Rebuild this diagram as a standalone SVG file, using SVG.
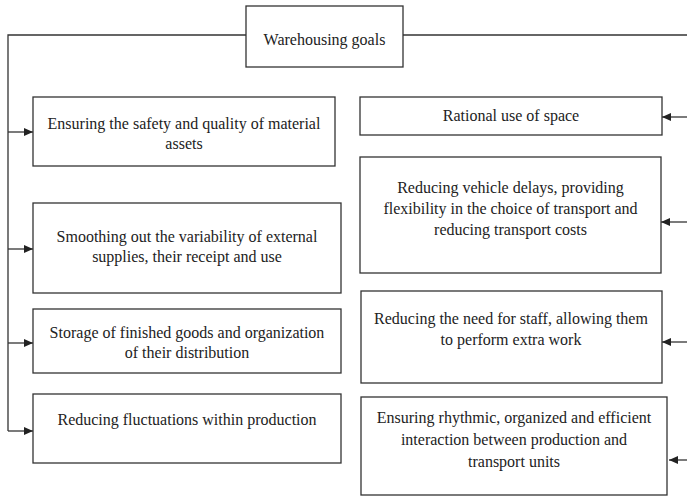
<svg xmlns="http://www.w3.org/2000/svg" width="687" height="496" viewBox="0 0 687 496">
<style>
.box{fill:#fff;stroke:#333;stroke-width:1.3}
.t{font-family:"Liberation Serif","Times New Roman",serif;font-size:16px;fill:#222;text-anchor:middle}
.c{fill:none;stroke:#333;stroke-width:1.3}
</style>
<defs>
<marker id="ah" markerUnits="userSpaceOnUse" markerWidth="9" markerHeight="8" refX="9" refY="4" orient="auto">
<path d="M0,0 L9,4 L0,8 z" fill="#222"/>
</marker>
</defs>
<rect width="687" height="496" fill="#fff"/>
<g id="connectors">
<path class="c" d="M246,35 H8 V431"/>
<path class="c" d="M403,35 H687"/>
<path class="c" d="M8,132 H33" marker-end="url(#ah)"/>
<path class="c" d="M8,249 H33" marker-end="url(#ah)"/>
<path class="c" d="M8,343 H33" marker-end="url(#ah)"/>
<path class="c" d="M8,431 H33" marker-end="url(#ah)"/>
<path class="c" d="M687,117 H662" marker-end="url(#ah)"/>
<path class="c" d="M687,222 H661" marker-end="url(#ah)"/>
<path class="c" d="M687,342 H662" marker-end="url(#ah)"/>
<path class="c" d="M687,460 H669" marker-end="url(#ah)"/>
</g>
<g id="root">
<rect class="box" x="246" y="6" width="157" height="61"/>
<text class="t" x="324.5" y="45">Warehousing goals</text>
</g>
<g id="l1">
<rect class="box" x="33" y="97" width="302" height="69"/>
<text class="t" x="184" y="129">Ensuring the safety and quality of material</text>
<text class="t" x="184" y="149">assets</text>
</g>
<g id="l2">
<rect class="box" x="33" y="203" width="308" height="90"/>
<text class="t" x="187" y="242">Smoothing out the variability of external</text>
<text class="t" x="187" y="262">supplies, their receipt and use</text>
</g>
<g id="l3">
<rect class="box" x="33" y="309" width="308" height="64"/>
<text class="t" x="187" y="338">Storage of finished goods and organization</text>
<text class="t" x="187" y="358">of their distribution</text>
</g>
<g id="l4">
<rect class="box" x="33" y="394" width="308" height="69"/>
<text class="t" x="187" y="425">Reducing fluctuations within production</text>
</g>
<g id="r1">
<rect class="box" x="360" y="97" width="302" height="38"/>
<text class="t" x="511" y="121">Rational use of space</text>
</g>
<g id="r2">
<rect class="box" x="360" y="157" width="301" height="116"/>
<text class="t" x="510.5" y="193">Reducing vehicle delays, providing</text>
<text class="t" x="510.5" y="214">flexibility in the choice of transport and</text>
<text class="t" x="510.5" y="235">reducing transport costs</text>
</g>
<g id="r3">
<rect class="box" x="361" y="291" width="301" height="92"/>
<text class="t" x="511" y="324">Reducing the need for staff, allowing them</text>
<text class="t" x="511" y="345">to perform extra work</text>
</g>
<g id="r4">
<rect class="box" x="361" y="397" width="306" height="98"/>
<text class="t" x="514" y="423">Ensuring rhythmic, organized and efficient</text>
<text class="t" x="514" y="445">interaction between production and</text>
<text class="t" x="514" y="467">transport units</text>
</g>
</svg>
